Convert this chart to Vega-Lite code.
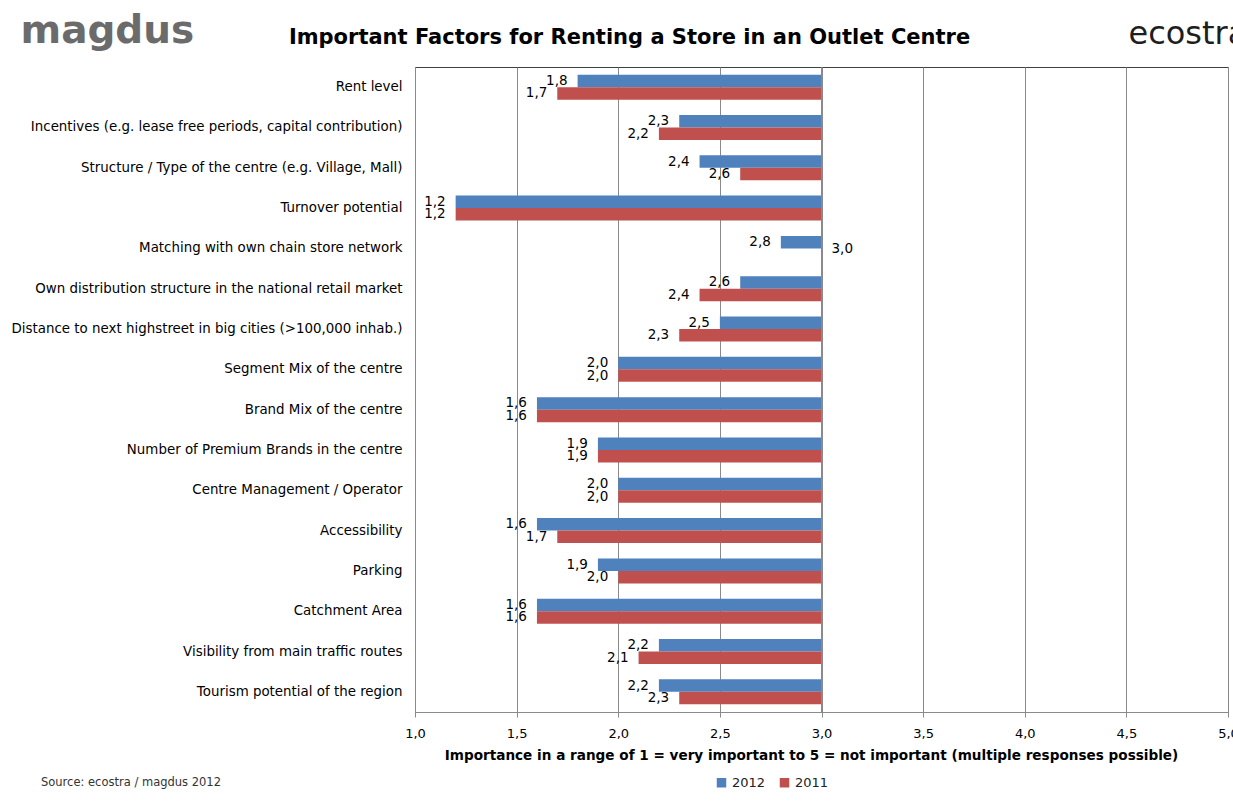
{
  "$schema": "https://vega.github.io/schema/vega-lite/v6.json",
  "autosize": {"type": "none"},
  "padding": {"left": 415, "top": 67, "right": 5, "bottom": 93},
  "width": 813,
  "height": 645,
  "background": "white",
  "title": {
    "text": "Important Factors for Renting a Store in an Outlet Centre",
    "anchor": "middle",
    "frame": "group",
    "dx": -192,
    "dy": 41,
    "font": "DejaVu Sans",
    "fontSize": 21,
    "fontWeight": "bold",
    "color": "#000000"
  },
  "data": {
    "values": [
      {"factor": "Rent level", "year": "2012", "value": 1.8},
      {"factor": "Rent level", "year": "2011", "value": 1.7},
      {"factor": "Incentives (e.g. lease free periods, capital contribution)", "year": "2012", "value": 2.3},
      {"factor": "Incentives (e.g. lease free periods, capital contribution)", "year": "2011", "value": 2.2},
      {"factor": "Structure / Type of the centre (e.g. Village, Mall)", "year": "2012", "value": 2.4},
      {"factor": "Structure / Type of the centre (e.g. Village, Mall)", "year": "2011", "value": 2.6},
      {"factor": "Turnover potential", "year": "2012", "value": 1.2},
      {"factor": "Turnover potential", "year": "2011", "value": 1.2},
      {"factor": "Matching with own chain store network", "year": "2012", "value": 2.8},
      {"factor": "Matching with own chain store network", "year": "2011", "value": 3.0},
      {"factor": "Own distribution structure in the national retail market", "year": "2012", "value": 2.6},
      {"factor": "Own distribution structure in the national retail market", "year": "2011", "value": 2.4},
      {"factor": "Distance to next highstreet in big cities (>100,000 inhab.)", "year": "2012", "value": 2.5},
      {"factor": "Distance to next highstreet in big cities (>100,000 inhab.)", "year": "2011", "value": 2.3},
      {"factor": "Segment Mix of the centre", "year": "2012", "value": 2.0},
      {"factor": "Segment Mix of the centre", "year": "2011", "value": 2.0},
      {"factor": "Brand Mix of the centre", "year": "2012", "value": 1.6},
      {"factor": "Brand Mix of the centre", "year": "2011", "value": 1.6},
      {"factor": "Number of Premium Brands in the centre", "year": "2012", "value": 1.9},
      {"factor": "Number of Premium Brands in the centre", "year": "2011", "value": 1.9},
      {"factor": "Centre Management / Operator", "year": "2012", "value": 2.0},
      {"factor": "Centre Management / Operator", "year": "2011", "value": 2.0},
      {"factor": "Accessibility", "year": "2012", "value": 1.6},
      {"factor": "Accessibility", "year": "2011", "value": 1.7},
      {"factor": "Parking", "year": "2012", "value": 1.9},
      {"factor": "Parking", "year": "2011", "value": 2.0},
      {"factor": "Catchment Area", "year": "2012", "value": 1.6},
      {"factor": "Catchment Area", "year": "2011", "value": 1.6},
      {"factor": "Visibility from main traffic routes", "year": "2012", "value": 2.2},
      {"factor": "Visibility from main traffic routes", "year": "2011", "value": 2.1},
      {"factor": "Tourism potential of the region", "year": "2012", "value": 2.2},
      {"factor": "Tourism potential of the region", "year": "2011", "value": 2.3}
    ]
  },
  "layer": [
    {
      "mark": {"type": "bar"},
      "encoding": {
        "y": {
          "field": "factor", "type": "nominal", "sort": null,
          "scale": {"paddingInner": 0.38, "paddingOuter": 0.19},
          "axis": {
            "ticks": false, "domain": false, "grid": false,
            "labelPadding": 13, "labelLimit": 600,
            "labelFont": "DejaVu Sans", "labelFontSize": 13.4, "labelColor": "#000000",
            "title": "magdus", "titleAngle": 0, "titleX": -395, "titleY": -25,
            "titleAlign": "left", "titleBaseline": "alphabetic",
            "titleFont": "DejaVu Sans", "titleFontSize": 39, "titleFontWeight": "bold",
            "titleColor": "#6b6b6b"
          }
        },
        "yOffset": {
          "field": "year", "type": "nominal", "sort": ["2012", "2011"],
          "scale": {"paddingInner": 0, "paddingOuter": 0}
        },
        "x": {
          "field": "value", "type": "quantitative",
          "scale": {"domain": [1, 5], "nice": false, "zero": false},
          "axis": {
            "values": [1, 1.5, 2, 2.5, 3, 3.5, 4, 4.5, 5],
            "format": ".1f",
            "grid": true, "gridColor": "#8a8a8a", "gridWidth": 1,
            "domainColor": "#8a8a8a", "tickColor": "#8a8a8a", "tickSize": 5,
            "labelPadding": 10, "labelFont": "DejaVu Sans", "labelFontSize": 13, "labelColor": "#000000",
            "labelFlush": false,
            "title": "Importance in a range of 1 = very important to 5 = not important (multiple responses possible)",
            "titleFont": "DejaVu Sans", "titleFontSize": 13.6, "titleFontWeight": "bold", "titleColor": "#000000",
            "titleX": 396, "titleY": 36, "titleBaseline": "top", "titleAlign": "center"
          }
        },
        "x2": {"datum": 3},
        "color": {
          "field": "year", "type": "nominal", "sort": ["2012", "2011"],
          "scale": {"domain": ["2012", "2011"], "range": ["#4F81BD", "#C0504D"]},
          "legend": {
            "orient": "none", "legendX": -374, "legendY": 709,
            "direction": "horizontal",
            "title": "Source: ecostra / magdus 2012",
            "titleOrient": "left", "titlePadding": 494,
            "titleFont": "DejaVu Sans", "titleFontSize": 11.5, "titleFontWeight": "normal", "titleColor": "#333333",
            "labelFont": "DejaVu Sans", "labelFontSize": 13, "labelColor": "#222222",
            "symbolType": "square", "symbolSize": 90, "symbolStrokeWidth": 0,
            "columnPadding": 12, "labelOffset": 4
          }
        }
      }
    },
    {
      "transform": [{"filter": "datum.value < 3"}],
      "mark": {"type": "text", "align": "right", "baseline": "middle", "dx": -10, "font": "DejaVu Sans", "fontSize": 13.5, "color": "#000000"},
      "encoding": {
        "y": {"field": "factor", "type": "nominal", "sort": null},
        "yOffset": {"field": "year", "type": "nominal", "sort": ["2012", "2011"]},
        "x": {"field": "value", "type": "quantitative", "axis": null},
        "text": {"field": "value", "type": "quantitative", "format": ".1f"}
      }
    },
    {
      "transform": [{"filter": "datum.value >= 3"}],
      "mark": {"type": "text", "align": "left", "baseline": "middle", "dx": 10, "dy": -6, "font": "DejaVu Sans", "fontSize": 13.5, "color": "#000000"},
      "encoding": {
        "y": {"field": "factor", "type": "nominal", "sort": null},
        "yOffset": {"field": "year", "type": "nominal", "sort": ["2012", "2011"]},
        "x": {"field": "value", "type": "quantitative", "axis": null},
        "text": {"field": "value", "type": "quantitative", "format": ".1f"}
      }
    },
    {
      "data": {"values": [{"axis_at": 3}]},
      "mark": {"type": "rule", "color": "#8a8a8a", "strokeWidth": 1},
      "encoding": {
        "x": {
          "field": "axis_at", "type": "quantitative",
          "axis": {
            "orient": "top", "labels": false, "ticks": false, "domain": false, "grid": false,
            "title": "ecostra", "titleX": 713, "titleY": -24,
            "titleAlign": "left", "titleBaseline": "alphabetic",
            "titleFont": "DejaVu Sans", "titleFontSize": 32, "titleFontWeight": "normal", "titleColor": "#1e1e1e"
          }
        }
      }
    }
  ],
  "resolve": {"axis": {"x": "independent"}},
  "config": {
    "locale": {"number": {"decimal": ",", "thousands": ".", "grouping": [3], "currency": ["", " €"]}},
    "view": {"stroke": "#404040", "strokeWidth": 1}
  }
}
